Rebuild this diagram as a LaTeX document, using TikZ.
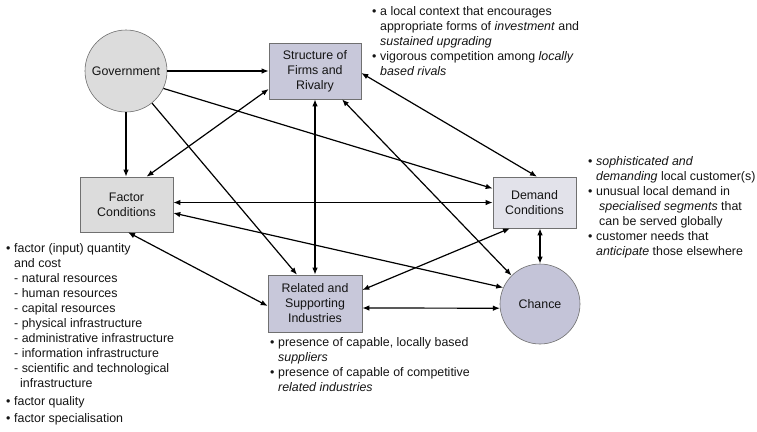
\documentclass[tikz,border=0pt]{standalone}
\usepackage{fontspec}
\setmainfont{Liberation Sans}
\usetikzlibrary{arrows.meta}
\definecolor{boxline}{HTML}{707070}
\definecolor{lav}{HTML}{C8C8DA}
\definecolor{lgray}{HTML}{DCDCDC}
\definecolor{lpale}{HTML}{E2E2EA}
\definecolor{chancefill}{HTML}{C4C4D8}
\definecolor{inkc}{HTML}{141414}
\newcommand\annbul{\makebox[8pt][l]{•}}
\newcommand\annind{\hspace*{8pt}}
\begin{document}
\begin{tikzpicture}[x=1pt,y=-1pt,
  font=\fontsize{12.4}{15}\selectfont, text=inkc,
  box/.style={draw=boxline, line width=0.6pt, align=center, inner sep=0pt},
  circ/.style={circle, draw=boxline, line width=0.6pt, inner sep=0pt},
  note/.style={align=left, inner sep=0pt, anchor=north west},
  conn/.style={draw=black, line width=1.2pt},
  one/.style={conn, -{Latex[length=7pt,width=5.5pt]}},
  both/.style={conn, {Latex[length=7pt,width=5.5pt]}-{Latex[length=7pt,width=5.5pt]}}]
\useasboundingbox (0,0) rectangle (757,431);
\fill[white] (0,0) rectangle (757,431);

% nodes
\node[box, fill=lav, minimum width=92pt, minimum height=56pt] (struct) at (315,71) {Structure of\\Firms and\\Rivalry};
\node[box, fill=lgray, minimum width=93pt, minimum height=55pt] (factor) at (126.5,204.5) {Factor\\Conditions};
\node[box, fill=lpale, minimum width=83pt, minimum height=51pt] (demand) at (534.5,202.5) {Demand\\Conditions};
\node[box, fill=lav, minimum width=94pt, minimum height=57pt] (related) at (315,303.5) {Related and\\Supporting\\Industries};
\node[circ, fill=lgray, minimum size=82pt] (gov) at (126,71) {Government};
\node[circ, fill=chancefill, minimum size=80pt] (chance) at (540,304) {Chance};

% connectors
\draw[one] (gov.east) -- (struct.west);
\draw[one] (gov.south) -- (factor.north -| gov.south);
\draw[one] (gov.-25) -- ([yshift=14pt]demand.west);
\draw[one] (gov.-51) -- ([xshift=-18pt]related.north);
\draw[both] ([yshift=-18pt]struct.west) -- ([xshift=20pt]factor.north);
\draw[both] (struct.south) -- (related.north);
\draw[both] ([xshift=27pt]struct.south) -- (chance.135);
\draw[both] ([yshift=-2pt]struct.east) -- ([xshift=2.5pt]demand.north);
\draw[both] (factor.east |- demand.west) -- (demand.west);
\draw[both] ([xshift=1.5pt]factor.south) -- ([yshift=-2.5pt]related.west);
\draw[both] ([yshift=-8.5pt]factor.east) -- (chance.156);
\draw[both] ([xshift=-24.5pt]demand.south) -- ([yshift=13.5pt]related.east);
\draw[both] (chance.north |- demand.south) -- (chance.north);
\draw[both] ([yshift=-4.5pt]related.east) -- (chance.186);

% annotations
\node[note] (nstruct) at (372,6) {\annbul a local context that encourages\\
\annind appropriate forms of \textit{investment} and\\
\annind\textit{sustained upgrading}\\
\annbul vigorous competition among \textit{locally}\\
\annind\textit{based rivals}};

\node[note] (ndemand) at (588,156) {\annbul\textit{sophisticated and}\\
\annind\textit{demanding} local customer(s)\\
\annbul unusual local demand in\\
\annind\hspace*{3pt}\textit{specialised segments} that\\
\annind\hspace*{3pt}can be served globally\\
\annbul customer needs that\\
\annind\textit{anticipate} those elsewhere};

\node[note] (nrelated) at (270,337) {\annbul presence of capable, locally based\\
\annind\textit{suppliers}\\
\annbul presence of capable of competitive\\
\annind\textit{related industries}};

\node[note] (nfactor) at (6,243) {\annbul factor (input) quantity\\
\annind and cost\\
\annind - natural resources\\
\annind - human resources\\
\annind - capital resources\\
\annind - physical infrastructure\\
\annind - administrative infrastructure\\
\annind - information infrastructure\\
\annind - scientific and technological\\
\annind\hspace*{6pt}infrastructure\\[3pt]
\annbul factor quality\\[2pt]
\annbul factor specialisation};
\end{tikzpicture}
\end{document}
